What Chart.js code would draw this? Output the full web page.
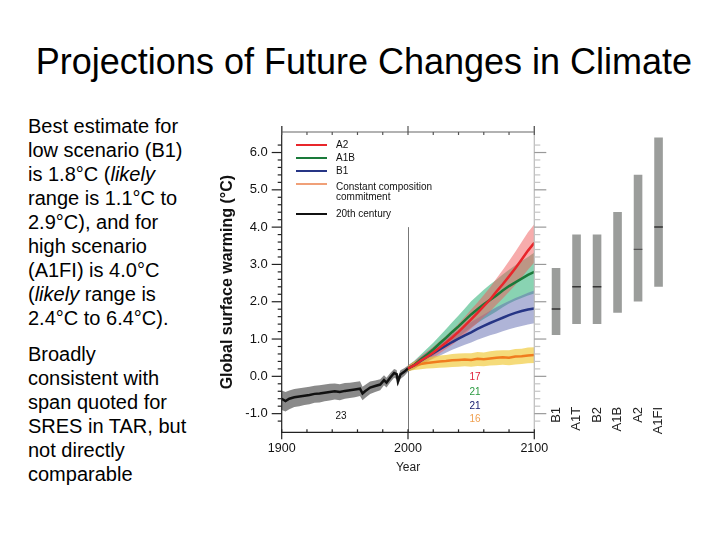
<!DOCTYPE html>
<html>
<head>
<meta charset="utf-8">
<script src="https://cdn.jsdelivr.net/npm/chart.js@4.4.0/dist/chart.umd.min.js"></script>
<style>
body{margin:0;width:720px;height:540px;background:#fff;position:relative;overflow:hidden;font-family:"Liberation Sans",Arial,sans-serif;color:#000}
#title{position:absolute;left:0;width:728px;top:44px;text-align:center;font-size:36px;line-height:36px;white-space:nowrap}
#text{position:absolute;left:28px;top:114px;font-size:20px;line-height:24px}
#text p{margin:0 0 12px 0}
#main{position:absolute;left:200px;top:110px}
#bars{position:absolute;left:540px;top:110px}
.lg{position:absolute;left:296px;width:31px;height:2px}
.lt{position:absolute;left:336px;font-size:10px;line-height:10px;color:#111;white-space:nowrap}
</style>
</head>
<body>
<div id="title">Projections of Future Changes in Climate</div>
<div id="text">
<p>Best estimate for<br>low scenario (B1)<br>is 1.8°C (<i>likely</i><br>range is 1.1°C to<br>2.9°C), and for<br>high scenario<br>(A1FI) is 4.0°C<br>(<i>likely</i> range is<br>2.4°C to 6.4°C).</p>
<p>Broadly<br>consistent with<br>span quoted for<br>SRES in TAR, but<br>not directly<br>comparable</p>
</div>
<canvas id="main" width="360" height="380"></canvas>
<canvas id="bars" width="140" height="380"></canvas>

<div class="lg" style="top:144px;background:#e8262b"></div><div class="lt" style="top:140px">A2</div>
<div class="lg" style="top:157px;background:#1a7a3a"></div><div class="lt" style="top:153px">A1B</div>
<div class="lg" style="top:170px;background:#263585"></div><div class="lt" style="top:166px">B1</div>
<div class="lg" style="top:183px;background:#f0a078"></div><div class="lt" style="top:182px">Constant composition<br>commitment</div>
<div class="lg" style="top:213px;background:#111"></div><div class="lt" style="top:209px">20th century</div>

<script>
// 20th century
const histYears = [1900,1903,1906,1910,1914,1918,1922,1926,1930,1934,1938,1942,1946,1950,1954,1958,1962,1964,1966,1970,1974,1978,1981,1983,1986,1989,1991,1992,1994,1997,2000]
const histMean = [-0.60,-0.66,-0.60,-0.56,-0.54,-0.52,-0.50,-0.47,-0.46,-0.44,-0.42,-0.40,-0.42,-0.39,-0.37,-0.35,-0.33,-0.46,-0.40,-0.30,-0.26,-0.22,-0.10,-0.17,-0.03,0.09,0.06,-0.14,0.05,0.12,0.21]
const histLow = [-0.90,-0.94,-0.88,-0.82,-0.80,-0.77,-0.75,-0.71,-0.70,-0.67,-0.65,-0.62,-0.64,-0.60,-0.58,-0.56,-0.53,-0.64,-0.58,-0.47,-0.42,-0.37,-0.24,-0.30,-0.16,-0.04,-0.07,-0.26,-0.07,0.01,0.12]
const histHigh = [-0.38,-0.42,-0.38,-0.34,-0.32,-0.30,-0.28,-0.25,-0.24,-0.22,-0.20,-0.19,-0.21,-0.18,-0.17,-0.15,-0.13,-0.28,-0.23,-0.14,-0.11,-0.08,0.03,-0.04,0.09,0.20,0.17,-0.02,0.16,0.22,0.29]

// 21st century projections
const futYears = [2000,2005,2010,2015,2020,2025,2030,2035,2040,2045,2050,2055,2060,2065,2070,2075,2080,2085,2090,2095,2100]
const a2Mean = [0.21,0.30,0.42,0.52,0.64,0.77,0.90,1.04,1.19,1.36,1.53,1.70,1.88,2.06,2.27,2.47,2.68,2.90,3.13,3.37,3.58]
const a2Low = [0.13,0.20,0.30,0.39,0.50,0.61,0.73,0.85,0.98,1.13,1.28,1.43,1.59,1.74,1.92,2.09,2.27,2.45,2.65,2.86,3.05]
const a2High = [0.29,0.40,0.54,0.66,0.79,0.94,1.08,1.24,1.41,1.60,1.79,1.98,2.18,2.39,2.62,2.85,3.09,3.34,3.60,3.86,4.08]
const a1bMean = [0.21,0.31,0.45,0.58,0.72,0.88,1.03,1.19,1.34,1.50,1.66,1.80,1.93,2.05,2.17,2.30,2.42,2.52,2.62,2.72,2.80]
const a1bLow = [0.13,0.20,0.32,0.43,0.55,0.68,0.80,0.93,1.05,1.18,1.31,1.43,1.54,1.64,1.74,1.85,1.95,2.03,2.10,2.17,2.22]
const a1bHigh = [0.29,0.42,0.58,0.74,0.90,1.08,1.26,1.45,1.63,1.82,2.01,2.17,2.32,2.46,2.59,2.73,2.86,2.98,3.09,3.20,3.32]
const b1Mean = [0.21,0.30,0.41,0.52,0.62,0.72,0.82,0.92,1.01,1.10,1.18,1.27,1.35,1.43,1.50,1.57,1.64,1.70,1.75,1.79,1.82]
const b1Low = [0.13,0.21,0.30,0.39,0.47,0.55,0.63,0.71,0.78,0.85,0.91,0.98,1.04,1.10,1.15,1.21,1.26,1.31,1.35,1.39,1.42]
const b1High = [0.29,0.40,0.52,0.65,0.77,0.89,1.01,1.13,1.24,1.35,1.46,1.56,1.66,1.76,1.85,1.94,2.02,2.10,2.17,2.24,2.30]
const ccMean = [0.21,0.29,0.33,0.36,0.38,0.40,0.41,0.43,0.44,0.45,0.44,0.47,0.46,0.48,0.50,0.51,0.50,0.53,0.54,0.56,0.57]
const ccLow = [0.14,0.17,0.19,0.21,0.22,0.23,0.24,0.25,0.26,0.27,0.26,0.28,0.27,0.29,0.30,0.31,0.30,0.32,0.33,0.35,0.36]
const ccHigh = [0.28,0.40,0.46,0.50,0.53,0.56,0.57,0.60,0.61,0.62,0.62,0.65,0.64,0.67,0.69,0.70,0.70,0.73,0.74,0.77,0.78]

// likely ranges at 2100
const scenarios = ['B1','A1T','B2','A1B','A2','A1FI']
const rangeLow = [1.1,1.4,1.4,1.7,2.0,2.4]
const rangeHigh = [2.9,3.8,3.8,4.4,5.4,6.4]
const bestEst = [1.8,2.4,2.4,null,3.4,4.0]

const yearLabels = [1900,2000,2100]
const modelCounts = ['17','21','21','16','23']

const COLORS = {
  red: '#e8262b', green: '#1a7a3a', blue: '#263585', orange: '#f07c1e', black: '#111',
  redBand: 'rgba(240,90,90,0.5)', greenBand: 'rgba(40,175,115,0.55)',
  blueBand: 'rgba(95,105,175,0.5)', yellowBand: 'rgba(240,200,50,0.65)', greyBand: '#8a8a8a'
}

const pts = (xs, ys) => xs.map((x, i) => ({x: x, y: ys[i]}))

const line = (label, xs, ys, color, order) => ({
  label: label, data: pts(xs, ys), borderColor: color, borderWidth: 2.5,
  pointRadius: 0, fill: false, order: order
})
const band = (xs, lo, hi, color, order) => ([
  {data: pts(xs, lo), borderColor: 'transparent', borderWidth: 0, pointRadius: 0, fill: false, order: order},
  {data: pts(xs, hi), borderColor: 'transparent', borderWidth: 0, pointRadius: 0, fill: '-1', backgroundColor: color, order: order}
])

const notes = [
  {x: 2053, y: -0.02, text: modelCounts[0], color: '#e0203a'},
  {x: 2053, y: -0.42, text: modelCounts[1], color: '#2a9a40'},
  {x: 2053, y: -0.80, text: modelCounts[2], color: '#1a2070'},
  {x: 2053, y: -1.16, text: modelCounts[3], color: '#f0a050'},
  {x: 1947, y: -1.07, text: modelCounts[4], color: '#111'}
]

const isStep = (v, s) => Math.abs(v / s - Math.round(v / s)) < 1e-6

const frame = {
  id: 'frame',
  beforeDatasetsDraw(chart) {
    const {ctx, scales: {x, y}} = chart
    const px = Math.round(x.getPixelForValue(2000)) + 0.5
    ctx.save()
    ctx.strokeStyle = '#777'
    ctx.lineWidth = 1
    ctx.beginPath()
    ctx.moveTo(px, y.getPixelForValue(4))
    ctx.lineTo(px, y.bottom)
    ctx.stroke()
    ctx.restore()
  },
  afterDatasetsDraw(chart) {
    const {ctx, scales: {x, y}} = chart
    const L = x.left, R = x.right, T = y.top, B = y.bottom
    ctx.save()
    ctx.lineWidth = 1.2
    // box
    ctx.strokeStyle = '#222'
    ctx.beginPath(); ctx.moveTo(L, T - 6); ctx.lineTo(L, B); ctx.lineTo(R, B); ctx.stroke()
    ctx.strokeStyle = '#666'
    ctx.beginPath(); ctx.moveTo(L, T); ctx.lineTo(R, T); ctx.stroke()
    ctx.strokeStyle = '#bbb'
    ctx.beginPath(); ctx.moveTo(R, T - 6); ctx.lineTo(R, B); ctx.stroke()
    // y ticks
    y.ticks.forEach(t => {
      if (!isStep(t.value, 0.2)) return
      const p = y.getPixelForValue(t.value)
      const major = isStep(t.value, 1)
      ctx.strokeStyle = '#222'
      ctx.beginPath(); ctx.moveTo(L - (major ? 10 : 4), p); ctx.lineTo(L, p); ctx.stroke()
      ctx.strokeStyle = major ? '#999' : '#c4c4c4'
      ctx.beginPath(); ctx.moveTo(R, p); ctx.lineTo(R + (major ? 12 : 6), p); ctx.stroke()
    })
    // x ticks
    x.ticks.forEach(t => {
      const p = x.getPixelForValue(t.value)
      const major = yearLabels.includes(t.value)
      ctx.strokeStyle = '#222'
      ctx.beginPath(); ctx.moveTo(p, B - 3); ctx.lineTo(p, B + (major ? 7 : 0)); ctx.stroke()
      ctx.strokeStyle = '#555'
      ctx.beginPath(); ctx.moveTo(p, T - (major ? 6 : 0)); ctx.lineTo(p, T + 3); ctx.stroke()
    })
    // model counts
    ctx.font = '10px "Liberation Sans", Arial, sans-serif'
    ctx.textAlign = 'center'
    ctx.textBaseline = 'middle'
    notes.forEach(n => {
      ctx.fillStyle = n.color
      ctx.fillText(n.text, x.getPixelForValue(n.x), y.getPixelForValue(n.y))
    })
    ctx.restore()
  }
}

Chart.defaults.font.family = '"Liberation Sans", Arial, sans-serif'

new Chart(document.getElementById('main'), {
  type: 'line',
  data: {
    datasets: [
      line('A2', futYears, a2Mean, COLORS.red, 1),
      line('A1B', futYears, a1bMean, COLORS.green, 2),
      line('B1', futYears, b1Mean, COLORS.blue, 3),
      line('Constant composition commitment', futYears, ccMean, COLORS.orange, 4),
      line('20th century', histYears, histMean, COLORS.black, 5),
      ...band(futYears, ccLow, ccHigh, COLORS.yellowBand, 6),
      ...band(futYears, a2Low, a2High, COLORS.redBand, 7),
      ...band(futYears, b1Low, b1High, COLORS.blueBand, 8),
      ...band(futYears, a1bLow, a1bHigh, COLORS.greenBand, 9),
      ...band(histYears, histLow, histHigh, COLORS.greyBand, 10)
    ]
  },
  options: {
    responsive: false,
    animation: false,
    events: [],
    layout: {padding: {left: 0, top: 22, right: 25.7, bottom: 0}, autoPadding: false},
    plugins: {legend: {display: false}, tooltip: {enabled: false}},
    elements: {line: {tension: 0}},
    scales: {
      x: {
        type: 'linear', min: 1900, max: 2100,
        afterFit(s) { s.height = 57.7 },
        grid: {display: false, drawTicks: false},
        border: {display: false},
        ticks: {stepSize: 20, padding: 9, maxRotation: 0, autoSkip: false, color: '#111', font: {size: 12.5},
          callback: v => yearLabels.includes(v) ? String(v) : ''},
        title: {display: true, text: 'Year', color: '#222', font: {size: 12}, padding: {top: 0, bottom: 15}}
      },
      y: {
        min: -1.5, max: 6.55,
        afterFit(s) { s.width = 81.7 },
        grid: {display: false, drawTicks: false},
        border: {display: false},
        ticks: {stepSize: 0.2, padding: 14, autoSkip: false, color: '#111', font: {size: 13},
          callback: v => isStep(v, 1) ? v.toFixed(1) : ''},
        title: {display: true, text: 'Global surface warming (°C)', color: '#111',
          font: {size: 16, weight: 'bold'}, padding: {top: 18, bottom: 0}}
      }
    }
  },
  plugins: [frame]
})

new Chart(document.getElementById('bars'), {
  type: 'bar',
  data: {
    labels: scenarios,
    datasets: [
      {
        data: bestEst.map(b => b == null ? null : [b - 0.02, b + 0.02]),
        backgroundColor: ['#333', '#333', '#333', '#333', '#555', '#333'],
        grouped: false, order: 0, barPercentage: 0.42, categoryPercentage: 1
      },
      {
        data: rangeLow.map((l, i) => [l, rangeHigh[i]]),
        backgroundColor: '#9b9d9b',
        grouped: false, order: 1, barPercentage: 0.42, categoryPercentage: 1
      }
    ]
  },
  options: {
    responsive: false,
    animation: false,
    events: [],
    layout: {padding: {left: 5.8, right: 11.2, top: 22, bottom: 0}, autoPadding: false},
    plugins: {legend: {display: false}, tooltip: {enabled: false}},
    scales: {
      x: {
        afterFit(s) { s.height = 87.1 },
        grid: {display: false, drawTicks: false},
        border: {display: false},
        ticks: {minRotation: 90, maxRotation: 90, padding: 4, color: '#222', font: {size: 13}}
      },
      y: {display: false, min: -0.72, max: 6.55}
    }
  }
})
</script>
</body>
</html>
